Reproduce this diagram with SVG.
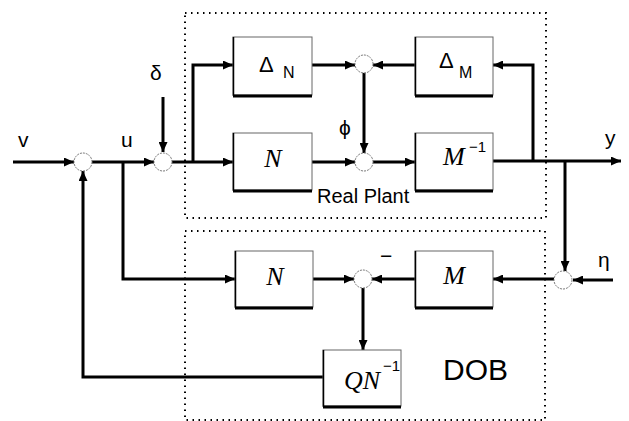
<svg xmlns="http://www.w3.org/2000/svg" width="629" height="421" viewBox="0 0 629 421">
<defs>
<marker id="ah" markerWidth="10" markerHeight="9" refX="10" refY="4.5" orient="auto" markerUnits="userSpaceOnUse">
<path d="M0,0 L10,4.5 L0,9 Z" fill="#000"/>
</marker>
</defs>
<style>
.bx{fill:#fff;stroke:#666;stroke-width:1}
.bl{stroke:#000;stroke-width:1.5}
.bb{stroke:#000;stroke-width:3}
.sum{fill:#fff;stroke:#777;stroke-width:1;stroke-dasharray:2 1}
.cn{fill:none;stroke:#000;stroke-width:3}
.cn.a{marker-end:url(#ah)}
.frame{fill:none;stroke:#000;stroke-width:2;stroke-dasharray:1.5 4.5}
.lbl{font-family:"Liberation Sans",Arial,sans-serif;font-size:21px;fill:#000}
.dl{font-family:"Liberation Sans",Arial,sans-serif;font-size:22px;fill:#000}
.sub{font-family:"Liberation Sans",Arial,sans-serif;font-size:16px;fill:#000}
.it{font-family:"Liberation Serif","Times New Roman",serif;font-style:italic;font-size:26px;fill:#000}
.sup{font-family:"Liberation Sans",Arial,sans-serif;font-size:15px;fill:#000}
</style>
<rect width="629" height="421" fill="#fff"/>
<g id="frames">
<rect class="frame" x="185" y="13" width="361" height="205"/>
<rect class="frame" x="185" y="231" width="360" height="189"/>
</g>
<g id="connectors">
<path class="cn a" d="M13,162 H74"/>
<path class="cn a" d="M92,162 H154"/>
<path class="cn a" d="M163,97 V152"/>
<path class="cn a" d="M172,162 H233"/>
<path class="cn a" d="M193,162 V65 H233"/>
<path class="cn a" d="M312,65 H355"/>
<path class="cn a" d="M415,65 H373"/>
<path class="cn a" d="M364,72 V153"/>
<path class="cn a" d="M312,162 H355"/>
<path class="cn a" d="M373,162 H415"/>
<path class="cn a" d="M493,161 H621"/>
<path class="cn a" d="M533,161 V65 H493"/>
<path class="cn a" d="M565,161 V271"/>
<path class="cn a" d="M613,280 H573"/>
<path class="cn a" d="M554,279 H493"/>
<path class="cn a" d="M415,279 H372"/>
<path class="cn a" d="M123,162 V279 H235"/>
<path class="cn a" d="M313,279 H354"/>
<path class="cn a" d="M363,288 V350"/>
<path class="cn a" d="M323,377 H83 V171"/>
</g>
<g id="sum1"><circle class="sum" cx="83" cy="162" r="9"/></g>
<g id="sum2"><circle class="sum" cx="163" cy="162" r="9"/></g>
<g id="sum3"><circle class="sum" cx="364" cy="64" r="9"/></g>
<g id="sum4"><circle class="sum" cx="364" cy="162" r="9"/></g>
<g id="sum5"><circle class="sum" cx="563" cy="280" r="9"/></g>
<g id="sum6"><circle class="sum" cx="363" cy="279" r="9"/></g>
<g id="deltaN">
<rect class="bx" x="233" y="37" width="79" height="58"/>
<line class="bl" x1="233.5" y1="37" x2="233.5" y2="96"/>
<line class="bb" x1="233" y1="96" x2="312" y2="96"/>
<text class="dl" x="259" y="72">Δ</text>
<text class="sub" x="283" y="78">N</text>
</g>
<g id="N1">
<rect class="bx" x="233" y="133" width="79" height="57"/>
<line class="bl" x1="233.5" y1="133" x2="233.5" y2="191"/>
<line class="bb" x1="233" y1="191" x2="312" y2="191"/>
<text class="it" x="273" y="167" text-anchor="middle">N</text>
</g>
<g id="deltaM">
<rect class="bx" x="415" y="37" width="78" height="58"/>
<line class="bl" x1="415.5" y1="37" x2="415.5" y2="96"/>
<line class="bb" x1="415" y1="96" x2="493" y2="96"/>
<text class="dl" x="439" y="68">Δ</text>
<text class="sub" x="459" y="78">M</text>
</g>
<g id="Minv">
<rect class="bx" x="415" y="133" width="78" height="57"/>
<line class="bl" x1="415.5" y1="133" x2="415.5" y2="191"/>
<line class="bb" x1="415" y1="191" x2="493" y2="191"/>
<text class="it" x="443" y="165">M</text>
<text class="sup" x="469" y="152">−1</text>
</g>
<g id="N2">
<rect class="bx" x="235" y="251" width="78" height="56"/>
<line class="bl" x1="235.5" y1="251" x2="235.5" y2="308"/>
<line class="bb" x1="235" y1="308" x2="313" y2="308"/>
<text class="it" x="275" y="285" text-anchor="middle">N</text>
</g>
<g id="M">
<rect class="bx" x="415" y="251" width="78" height="56"/>
<line class="bl" x1="415.5" y1="251" x2="415.5" y2="308"/>
<line class="bb" x1="415" y1="308" x2="493" y2="308"/>
<text class="it" x="454" y="284" text-anchor="middle">M</text>
</g>
<g id="QNinv">
<rect class="bx" x="323" y="350" width="78" height="56"/>
<line class="bl" x1="323.5" y1="350" x2="323.5" y2="407"/>
<line class="bb" x1="323" y1="407" x2="401" y2="407"/>
<text class="it" x="344" y="389">QN</text>
<text class="sup" x="383" y="371">−1</text>
</g>
<g id="labels">
<text class="lbl" x="18" y="147">v</text>
<text class="lbl" x="121" y="147">u</text>
<text class="lbl" x="150" y="80">δ</text>
<text class="lbl" x="339" y="135">ϕ</text>
<text class="lbl" x="605" y="145">y</text>
<text class="lbl" x="598" y="267">η</text>
<text class="lbl" x="380" y="263">−</text>
<text class="lbl" x="317" y="203" style="font-size:20px">Real Plant</text>
<text class="lbl" x="443" y="380" style="font-size:30px">DOB</text>
</g>
</svg>
